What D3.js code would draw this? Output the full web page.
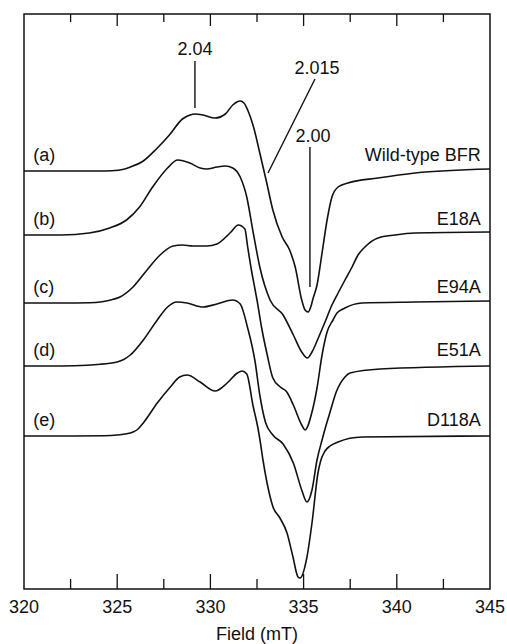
<!DOCTYPE html>
<html>
<head>
  <meta charset="utf-8">
  <script src="https://cdn.jsdelivr.net/npm/d3@7/dist/d3.min.js"></script>
  <style>
    body { margin: 0; background: #fff; }
    svg { display: block; }
    text { font-family: "Liberation Sans", Arial, sans-serif; fill: #111; }
  </style>
</head>
<body>
<script>
// trace labels and sample names
var traceLabels = ["(a)", "(b)", "(c)", "(d)", "(e)"];
var sampleNames = ["Wild-type BFR", "E18A", "E94A", "E51A", "D118A"];
// vertical offset of each spectrum (arbitrary units)
var offsets = [418, 354, 286, 223, 153];

// field (mT) and derivative signal (a.u.)
var fieldA = [320, 322, 324, 324.7, 325.35, 325.7, 326.4, 327.1, 327.8, 328.5, 328.9, 329.2, 329.6, 330.25, 330.8, 331.2, 331.6, 331.8, 332.0, 332.3, 332.65, 333.0, 333.35, 333.85, 334.25, 334.55, 334.9, 335.08, 335.24, 335.4, 335.5, 335.72, 335.99, 336.26, 336.52, 336.85, 337.38, 338.99, 340.98, 345];
var signalA = [0, 0, 0, 0.3, 1.8, 4, 10, 22, 36, 52, 56, 57, 56, 53, 57, 66, 70, 68, 61, 45, 18, -10, -39, -66, -79, -96, -129, -139, -141, -135, -128, -114, -82, -49, -26, -16, -12, -7, -2, 2];

var fieldB = [320, 322, 323.5, 324.6, 325.5, 326.2, 326.9, 327.7, 328.25, 328.9, 329.45, 329.8, 330.35, 330.8, 331.2, 331.6, 331.95, 332.3, 332.65, 333.2, 333.9, 334.45, 334.9, 335.2, 335.45, 335.72, 336.15, 336.52, 336.85, 337.22, 337.6, 337.92, 338.29, 338.99, 339.9, 340.98, 345];
var signalB = [0, 0, 2, 7, 15, 28, 48, 67, 75, 72, 67, 66, 68, 69, 67, 58, 38, 2, -32, -65, -80, -100, -117, -123, -117, -106, -87, -70, -58, -45, -32, -20, -12, -3, 0, 2, 3];

var fieldC = [320, 322, 323.5, 324.1, 324.6, 325.15, 325.85, 326.6, 327.3, 328.0, 328.5, 329.05, 329.8, 330.35, 331.05, 331.5, 331.85, 332.0, 332.2, 332.4, 332.5, 332.75, 333.05, 333.35, 333.75, 334.1, 334.45, 334.9, 335.08, 335.45, 335.72, 335.99, 336.26, 336.58, 336.79, 337.22, 338.13, 340.98, 345];
var signalC = [0, 0, 0.3, 1, 2.8, 6, 16, 33, 48, 57, 58, 57, 57, 59, 70, 78, 74, 56, 33, 13, 3, -25, -52, -75, -84, -89, -102, -122, -127, -109, -85, -52, -29, -17, -10, -5, 0, 1, 2];

var fieldD = [320, 322, 323.4, 324.1, 324.6, 325.0, 325.35, 325.7, 326.4, 327.15, 327.7, 328.2, 328.75, 329.6, 330.35, 331.2, 331.6, 332.0, 332.4, 332.65, 332.95, 333.35, 333.9, 334.45, 334.9, 335.18, 335.45, 335.72, 335.99, 336.21, 336.42, 336.75, 337.22, 337.49, 339.1, 345];
var signalD = [0, 0, 0.8, 1.8, 2.8, 4, 6.5, 11, 26, 46, 59, 64, 63, 59, 62, 66, 62, 38, 4, -29, -56, -69, -78, -97, -124, -136, -124, -94, -74, -59, -46, -26, -11, -7, -3, 0];

var fieldE = [320, 322, 324.3, 325.0, 325.42, 325.85, 326.12, 326.4, 327.15, 327.85, 328.35, 328.75, 329.45, 330.25, 330.9, 331.45, 331.7, 331.95, 332.29, 332.55, 332.66, 332.82, 333.04, 333.36, 333.73, 334.11, 334.43, 334.7, 334.81, 335.18, 335.45, 335.77, 335.93, 336.15, 336.42, 336.85, 338.13, 345];
var signalE = [0, 0, 0.3, 1, 2, 4, 7, 13, 33, 49, 59, 61, 54, 45, 53, 63, 65, 62, 30, 8, -4, -24, -47, -71, -82, -97, -121, -141, -142, -121, -87, -37, -24, -15, -10, -6, -1, 0];

var majorTicks = [320, 325, 330, 335, 340, 345];
var minorTicks = [322.5, 327.5, 332.5, 337.5, 342.5];

var fields = [fieldA, fieldB, fieldC, fieldD, fieldE];
var signals = [signalA, signalB, signalC, signalD, signalE];

var W = 507, H = 644;
var margin = {left: 24, right: 17, top: 14, bottom: 55};
var svg = d3.select("body").append("svg").attr("width", W).attr("height", H);

var x = d3.scaleLinear().domain([320, 345]).range([margin.left, W - margin.right]);
var y = d3.scaleLinear().domain([0, 575]).range([H - margin.bottom, margin.top]);

//spectra
var line = d3.line()
  .x(function(d) { return x(d[0]); })
  .y(function(d) { return y(d[1]); })
  .curve(d3.curveMonotoneX);

var traces = traceLabels.map(function(lab, i) {
  return fields[i].map(function(f, j) { return [f, signals[i][j] + offsets[i]]; });
});

svg.append("g").selectAll("path")
  .data(traces)
  .enter().append("path")
  .attr("d", line)
  .attr("fill", "none")
  .attr("stroke", "#111")
  .attr("stroke-width", 1.6)
  .attr("stroke-linejoin", "round");

// left and right labels
svg.append("g").selectAll("text")
  .data(traceLabels)
  .enter().append("text")
  .attr("x", x(320.5))
  .attr("y", function(d, i) { return y(offsets[i] + 10); })
  .attr("font-size", 18)
  .text(function(d) { return d; });

svg.append("g").selectAll("text")
  .data(sampleNames)
  .enter().append("text")
  .attr("x", x(344.5))
  .attr("y", function(d, i) { return y(offsets[i] + 10); })
  .attr("text-anchor", "end")
  .attr("font-size", 18)
  .text(function(d) { return d; });

// g-value markers
function marker(f1, v1, f2, v2) {
  svg.append("line")
    .attr("x1", x(f1)).attr("y1", y(v1))
    .attr("x2", x(f2)).attr("y2", y(v2))
    .attr("stroke", "#111").attr("stroke-width", 1.4);
}
marker(329.17, 528, 329.17, 481);
marker(335.61, 510, 333.09, 416);
marker(335.34, 442, 335.34, 302);

svg.append("text").attr("x", x(329.17)).attr("y", y(534))
  .attr("text-anchor", "middle").attr("font-size", 18).text("2.04");
svg.append("text").attr("x", x(335.72)).attr("y", y(515))
  .attr("text-anchor", "middle").attr("font-size", 18).text("2.015");
svg.append("text").attr("x", x(335.5)).attr("y", y(447))
  .attr("text-anchor", "middle").attr("font-size", 18).text("2.00");

// frame and ticks
svg.append("rect")
  .attr("x", x(320)).attr("y", y(575))
  .attr("width", x(345) - x(320)).attr("height", y(0) - y(575))
  .attr("fill", "none").attr("stroke", "#111").attr("stroke-width", 1.5);

var bottomAxis = svg.append("g").attr("transform", "translate(0," + y(0) + ")");
bottomAxis.selectAll(".maj").data(majorTicks.slice(1, -1)).enter().append("line")
  .attr("x1", x).attr("x2", x).attr("y1", 0).attr("y2", -15)
  .attr("stroke", "#111").attr("stroke-width", 1.3);
bottomAxis.selectAll(".min").data(minorTicks).enter().append("line")
  .attr("x1", x).attr("x2", x).attr("y1", 0).attr("y2", -10)
  .attr("stroke", "#111").attr("stroke-width", 1.3);

var topAxis = svg.append("g").attr("transform", "translate(0," + y(575) + ")");
topAxis.selectAll(".maj").data(majorTicks.slice(1, -1)).enter().append("line")
  .attr("x1", x).attr("x2", x).attr("y1", 0).attr("y2", 12)
  .attr("stroke", "#111").attr("stroke-width", 1.3);
topAxis.selectAll(".min").data(minorTicks).enter().append("line")
  .attr("x1", x).attr("x2", x).attr("y1", 0).attr("y2", 8)
  .attr("stroke", "#111").attr("stroke-width", 1.3);

bottomAxis.selectAll(".lab").data(majorTicks).enter().append("text")
  .attr("x", x).attr("y", 24)
  .attr("text-anchor", "middle").attr("font-size", 18)
  .text(function(d) { return d; });

svg.append("text")
  .attr("x", (x(320) + x(345)) / 2).attr("y", H - 4)
  .attr("text-anchor", "middle").attr("font-size", 18)
  .text("Field (mT)");
</script>
</body>
</html>
